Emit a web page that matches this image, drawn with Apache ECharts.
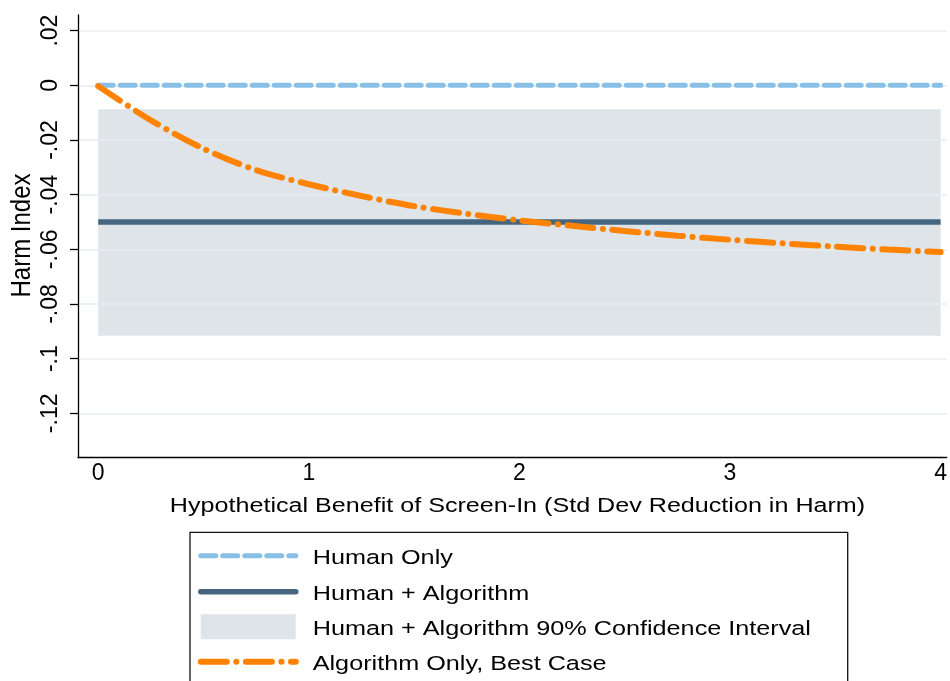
<!DOCTYPE html>
<html>
<head>
<meta charset="utf-8">
<script src="https://cdn.jsdelivr.net/npm/echarts@6/dist/echarts.min.js"></script>
<style>
html,body{margin:0;padding:0;background:#fff;}
#chart{width:950px;height:681px;}
</style>
</head>
<body>
<div id="chart"></div>
<script>
// ---- data ----
const xTicks = [0, 1, 2, 3, 4];
const yTicks = [-0.12, -0.1, -0.08, -0.06, -0.04, -0.02, 0, 0.02];
const xSpan = [0, 4];
const humanOnly = [0, 0];
const humanAlgo = [-0.050, -0.050];
const ciLow = [-0.0916];
const ciHigh = [-0.0088];
const benefitX = [0, 0.25, 0.5, 0.75, 1, 1.25, 1.5, 1.75, 2, 2.25, 2.5, 2.75, 3, 3.25, 3.5, 3.75, 4];
const algoBest = [-0.0003, -0.0128, -0.0232, -0.0310, -0.0362, -0.0405, -0.0442, -0.0470, -0.0494, -0.0514, -0.0533, -0.0550, -0.0565, -0.0578, -0.0590, -0.0601, -0.0610];
const seriesNames = ['Human Only', 'Human + Algorithm', 'Human + Algorithm 90% Confidence Interval', 'Algorithm Only, Best Case'];
const xTitle = 'Hypothetical Benefit of Screen-In (Std Dev Reduction in Harm)';
const yTitle = 'Harm Index';

// ---- styles ----
const C_HUMAN = '#87bfe7';
const C_ALGO = '#46667f';
const C_BAND = '#dfe4e8';
const C_BEST = '#ff8200';
const C_GRID = '#e6eef1';
const FONT = '"Liberation Sans", Arial, Helvetica, sans-serif';
const DASH_HUMAN = [15, 7];
const DASH_BEST = [26, 9.5, 0.1, 9.5];

function fmt(v) {
  const s = String(Math.round(v * 100) / 100);
  return s.replace(/^(-?)0\./, '$1.');
}
const pairs = (xs, ys) => xs.map((x, i) => [x, ys[i]]);

const chart = echarts.init(document.getElementById('chart'), null, {renderer: 'canvas'});

const legendLeft = 200.8, legendRight = 295.8, textX = 312.7;
const rowY = [555.7, 591.7, 626.8, 661.7];
const textY = [558, 594, 629.5, 664.5];

const option = {
  animation: false,
  backgroundColor: '#ffffff',
  grid: {left: 78, right: 0, top: 15, bottom: 223.5, containLabel: false},
  xAxis: {
    type: 'value', min: -0.096, max: 4.029,
    axisLine: {show: true, onZero: false, lineStyle: {color: '#000', width: 1.3}},
    axisTick: {show: false},
    splitLine: {show: false},
    axisLabel: {customValues: xTicks, color: '#000', fontSize: 23, fontFamily: FONT, margin: 5, formatter: v => String(v)}
  },
  yAxis: {
    type: 'value', min: -0.13616, max: 0.02572, z: 1.5,
    axisLine: {show: true, onZero: false, lineStyle: {color: '#000', width: 1.3}},
    axisTick: {show: true, customValues: yTicks, length: 8, lineStyle: {color: '#000', width: 1.3}},
    splitLine: {show: true, lineStyle: {color: C_GRID, width: 1.5}},
    axisLabel: {customValues: yTicks, rotate: 90, color: '#000', fontSize: 23, fontFamily: FONT, margin: 16, formatter: fmt}
  },
  series: [
    {
      name: seriesNames[2], type: 'line', data: [], symbol: 'none', silent: true,
      markArea: {
        silent: true,
        itemStyle: {color: C_BAND, opacity: 1},
        data: [[{xAxis: xSpan[0], yAxis: ciHigh[0]}, {xAxis: xSpan[1], yAxis: ciLow[0]}]]
      }
    },
    {
      name: seriesNames[0], type: 'line', data: pairs(xSpan, humanOnly), symbol: 'none', z: 3,
      lineStyle: {color: C_HUMAN, width: 5, type: DASH_HUMAN, cap: 'round'}
    },
    {
      name: seriesNames[1], type: 'line', data: pairs(xSpan, humanAlgo), symbol: 'none', z: 3,
      lineStyle: {color: C_ALGO, width: 5.5, type: 'solid', cap: 'butt'}
    },
    {
      name: seriesNames[3], type: 'line', data: pairs(benefitX, algoBest), symbol: 'none', smooth: 0.3, z: 4,
      lineStyle: {color: C_BEST, width: 6, type: DASH_BEST, cap: 'round'}
    }
  ],
  graphic: [
    {type: 'text', x: 517.5, y: 506, scaleX: 1.256, style: {text: xTitle, font: '20px ' + FONT, fill: '#000', align: 'center', verticalAlign: 'middle'}},
    {type: 'text', x: 22, y: 235.5, rotation: Math.PI / 2, scaleY: 1.15, style: {text: yTitle, font: '24px ' + FONT, fill: '#000', align: 'center', verticalAlign: 'middle'}},
    {type: 'rect', shape: {x: 190, y: 532.3, width: 657.7, height: 200}, style: {fill: '#fff', stroke: '#111', lineWidth: 1.3}},
    {type: 'line', shape: {x1: legendLeft, y1: rowY[0], x2: legendRight, y2: rowY[0]}, style: {stroke: C_HUMAN, lineWidth: 5, lineDash: DASH_HUMAN, lineCap: 'round'}},
    {type: 'line', shape: {x1: legendLeft, y1: rowY[1], x2: legendRight, y2: rowY[1]}, style: {stroke: C_ALGO, lineWidth: 5.5, lineCap: 'round'}},
    {type: 'rect', shape: {x: 200.7, y: 614.3, width: 95, height: 25}, style: {fill: C_BAND}},
    {type: 'line', shape: {x1: legendLeft, y1: rowY[3], x2: legendRight, y2: rowY[3]}, style: {stroke: C_BEST, lineWidth: 6, lineDash: DASH_BEST, lineCap: 'round'}},
    {type: 'text', x: textX, y: textY[0], scaleX: 1.23, style: {text: seriesNames[0], font: '20.5px ' + FONT, fill: '#000', align: 'left', verticalAlign: 'middle'}},
    {type: 'text', x: textX, y: textY[1], scaleX: 1.23, style: {text: seriesNames[1], font: '20.5px ' + FONT, fill: '#000', align: 'left', verticalAlign: 'middle'}},
    {type: 'text', x: textX, y: textY[2], scaleX: 1.23, style: {text: seriesNames[2], font: '20.5px ' + FONT, fill: '#000', align: 'left', verticalAlign: 'middle'}},
    {type: 'text', x: textX, y: textY[3], scaleX: 1.23, style: {text: seriesNames[3], font: '20.5px ' + FONT, fill: '#000', align: 'left', verticalAlign: 'middle'}}
  ]
};
chart.setOption(option);
</script>
</body>
</html>
